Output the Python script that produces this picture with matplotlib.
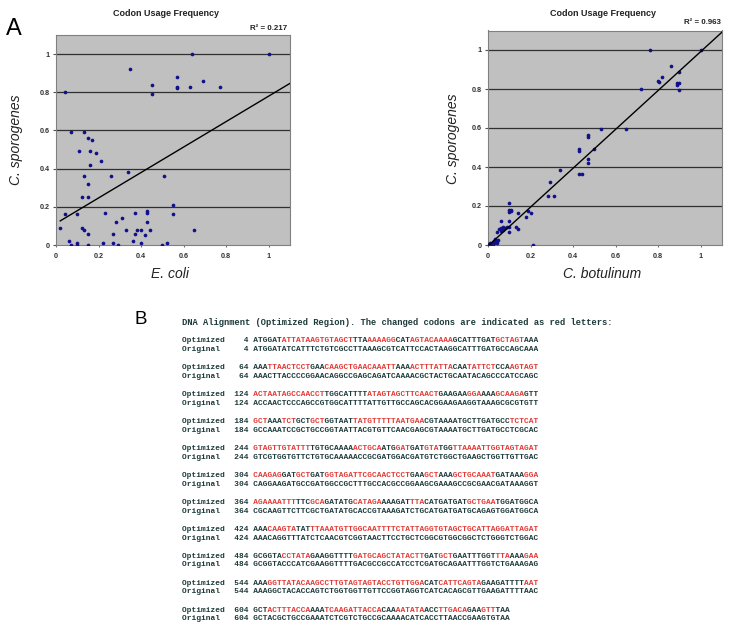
import numpy as np
import matplotlib
matplotlib.use("Agg")
import matplotlib.pyplot as plt

# %%
# Scatter data
ecoli_x = [1.0, 0.64, 0.35, 0.04, 0.45, 0.45, 0.57, 0.57, 0.57, 0.63, 0.69, 0.77,
           0.07, 0.13, 0.15, 0.17, 0.11, 0.16, 0.19, 0.16, 0.21, 0.13, 0.26, 0.34,
           0.51, 0.15, 0.12, 0.15, 0.55, 0.55, 0.04, 0.10, 0.23, 0.37, 0.43, 0.43,
           0.31, 0.28, 0.43, 0.02, 0.12, 0.13, 0.33, 0.38, 0.40, 0.44, 0.65, 0.15,
           0.27, 0.37, 0.42, 0.06, 0.36, 0.10, 0.22, 0.27, 0.40, 0.52, 0.07, 0.10,
           0.15, 0.29, 0.50]
ecoli_y = [1.0, 1.0, 0.92, 0.80, 0.84, 0.79, 0.88, 0.83, 0.82, 0.83, 0.86, 0.83,
           0.59, 0.59, 0.56, 0.55, 0.49, 0.49, 0.48, 0.42, 0.44, 0.36, 0.36, 0.38,
           0.36, 0.32, 0.25, 0.25, 0.21, 0.16, 0.16, 0.16, 0.17, 0.17, 0.18, 0.17,
           0.14, 0.12, 0.12, 0.09, 0.09, 0.08, 0.08, 0.08, 0.08, 0.08, 0.08, 0.06,
           0.06, 0.06, 0.05, 0.02, 0.02, 0.01, 0.01, 0.01, 0.01, 0.01, 0.0, 0.0,
           0.0, 0.0, 0.0]

botu_x = [0.76, 1.0, 0.86, 0.90, 0.82, 0.80, 0.805, 0.89, 0.90, 0.89, 0.90, 0.72,
          0.53, 0.65, 0.47, 0.47, 0.43, 0.43, 0.50, 0.47, 0.47, 0.34, 0.43, 0.44,
          0.29, 0.28, 0.31, 0.10, 0.10, 0.11, 0.10, 0.11, 0.14, 0.19, 0.20, 0.18,
          0.06, 0.10, 0.13, 0.14, 0.07, 0.10, 0.04, 0.05, 0.06, 0.08, 0.09, 0.06,
          0.07, 0.10, 0.04, 0.03, 0.02, 0.01, 0.01, 0.02, 0.03, 0.04, 0.035, 0.005,
          0.025, 0.045, 0.21]
botu_y = [1.0, 1.0, 0.92, 0.885, 0.862, 0.843, 0.835, 0.83, 0.83, 0.82, 0.793, 0.80,
          0.595, 0.595, 0.565, 0.555, 0.492, 0.482, 0.492, 0.44, 0.42, 0.383, 0.362, 0.362,
          0.325, 0.253, 0.253, 0.215, 0.18, 0.18, 0.17, 0.175, 0.165, 0.176, 0.166, 0.142,
          0.123, 0.123, 0.091, 0.083, 0.091, 0.067, 0.065, 0.08, 0.085, 0.085, 0.09, 0.07,
          0.075, 0.09, 0.02, 0.01, 0.01, 0.01, 0.0, 0.0, 0.02, 0.01, 0.03, 0.005,
          0.005, 0.025, 0.002]

# trend lines (slope, intercept, x start) and R^2 labels
trend_left = (0.667, 0.113, 0.02)
trend_right = (0.997, -0.005, 0.0)
r2_left = "R² = 0.217"
r2_right = "R² = 0.963"

ticks = [0, 0.2, 0.4, 0.6, 0.8, 1]
tick_labels = ["0", "0.2", "0.4", "0.6", "0.8", "1"]

# %%
# Alignment data
header = "DNA Alignment (Optimized Region). The changed codons are indicated as red letters:"
starts = [4, 64, 124, 184, 244, 304, 364, 424, 484, 544, 604]
opt_seqs = [
    "ATGGATATTATAAGTGTAGCTTTAAAAAGGCATAGTACAAAAGCATTTGATGCTAGTAAA",
    "AAATTAACTCCTGAACAAGCTGAACAAATTAAAACTTTATTACAATATTCTCCAAGTAGT",
    "ACTAATAGCCAACCTTGGCATTTTATAGTAGCTTCAACTGAAGAAGGAAAAGCAAGAGTT",
    "GCTAAATCTGCTGCTGGTAATTATGTTTTTAATGAACGTAAAATGCTTGATGCCTCTCAT",
    "GTAGTTGTATTTTGTGCAAAAACTGCAATGGATGATGTATGGTTAAAATTGGTAGTAGAT",
    "CAAGAGGATGCTGATGGTAGATTCGCAACTCCTGAAGCTAAAGCTGCAAATGATAAAGGA",
    "AGAAAATTTTTCGCAGATATGCATAGAAAAGATTTACATGATGATGCTGAATGGATGGCA",
    "AAACAAGTATATTTAAATGTTGGCAATTTTCTATTAGGTGTAGCTGCATTAGGATTAGAT",
    "GCGGTACCTATAGAAGGTTTTGATGCAGCTATACTTGATGCTGAATTTGGTTTAAAAGAA",
    "AAAGGTTATACAAGCCTTGTAGTAGTACCTGTTGGACATCATTCAGTAGAAGATTTTAAT",
    "GCTACTTTACCAAAATCAAGATTACCACAAAATATAACCTTGACAGAAGTTTAA",
]
orig_seqs = [
    "ATGGATATCATTTCTGTCGCCTTAAAGCGTCATTCCACTAAGGCATTTGATGCCAGCAAA",
    "AAACTTACCCCGGAACAGGCCGAGCAGATCAAAACGCTACTGCAATACAGCCCATCCAGC",
    "ACCAACTCCCAGCCGTGGCATTTTATTGTTGCCAGCACGGAAGAAGGTAAAGCGCGTGTT",
    "GCCAAATCCGCTGCCGGTAATTACGTGTTCAACGAGCGTAAAATGCTTGATGCCTCGCAC",
    "GTCGTGGTGTTCTGTGCAAAAACCGCGATGGACGATGTCTGGCTGAAGCTGGTTGTTGAC",
    "CAGGAAGATGCCGATGGCCGCTTTGCCACGCCGGAAGCGAAAGCCGCGAACGATAAAGGT",
    "CGCAAGTTCTTCGCTGATATGCACCGTAAAGATCTGCATGATGATGCAGAGTGGATGGCA",
    "AAACAGGTTTATCTCAACGTCGGTAACTTCCTGCTCGGCGTGGCGGCTCTGGGTCTGGAC",
    "GCGGTACCCATCGAAGGTTTTGACGCCGCCATCCTCGATGCAGAATTTGGTCTGAAAGAG",
    "AAAGGCTACACCAGTCTGGTGGTTGTTCCGGTAGGTCATCACAGCGTTGAAGATTTTAAC",
    "GCTACGCTGCCGAAATCTCGTCTGCCGCAAAACATCACCTTAACCGAAGTGTAA",
]

# %%
W, H = 729, 633
fig = plt.figure(figsize=(W / 100, H / 100), dpi=100)
plt.rcParams['font.family'] = ['Liberation Sans', 'DejaVu Sans']

def px(x, y):
    # pixel position (from top-left) -> figure fraction
    return x / W, 1 - y / H

def scatter_panel(rect, xs, ys, trend):
    ax = fig.add_axes(rect)
    ax.set_facecolor('#c0c0c0')
    ax.set_xlim(0, 1.1)
    ax.set_ylim(0, 1.1)
    for t in ticks[1:]:
        ax.axhline(t, color='#303030', lw=0.9, zorder=1)
    ax.scatter(xs, ys, s=7, marker='o', color='#10108a', lw=0, zorder=3)
    a, b, x0 = trend
    xl = np.array([x0, 1.1])
    ax.plot(xl, a * xl + b, color='black', lw=1.0, zorder=4)
    ax.set_xticks(ticks)
    ax.set_yticks(ticks)
    ax.set_xticklabels(tick_labels, fontsize=5.2, fontweight='bold', color='#333333')
    ax.set_yticklabels(tick_labels, fontsize=5.2, fontweight='bold', color='#333333')
    ax.tick_params(axis='x', length=1.5, pad=4.5, color='#707070')
    ax.tick_params(axis='y', length=2, pad=2.5, color='#505050')
    for s in ax.spines.values():
        s.set_color('#808080')
        s.set_linewidth(0.8)
    return ax

# Panel A - left
axl = scatter_panel([56 / W, 1 - 245 / H, 234 / W, 210 / H], ecoli_x, ecoli_y, trend_left)
fig.text(*px(166, 13), "Codon Usage Frequency", fontsize=6.5, fontweight='bold',
         ha='center', va='center', color='#222222')
fig.text(*px(287, 28), r2_left, fontsize=5.7, fontweight='bold', ha='right', va='center',
         color='#222222')
fig.text(*px(16, 140), "C. sporogenes", fontsize=10, style='italic', rotation=90,
         ha='center', va='center', color='#222222')
fig.text(*px(170, 274), "E. coli", fontsize=10, style='italic', ha='center', va='center',
         color='#222222')

# right
axr = scatter_panel([488 / W, 1 - 245 / H, 234 / W, 214.5 / H], botu_x, botu_y, trend_right)
fig.text(*px(603, 14), "Codon Usage Frequency", fontsize=6.5, fontweight='bold',
         ha='center', va='center', color='#222222')
fig.text(*px(721, 23), r2_right, fontsize=5.7, fontweight='bold', ha='right', va='center',
         color='#222222')
fig.text(*px(453, 139), "C. sporogenes", fontsize=10, style='italic', rotation=90,
         ha='center', va='center', color='#222222')
fig.text(*px(602, 274), "C. botulinum", fontsize=10, style='italic', ha='center', va='center',
         color='#222222')

fig.text(*px(14, 29), "A", fontsize=17, ha='center', va='center', color='black')
fig.text(*px(141, 320), "B", fontsize=13.5, ha='center', va='center', color='black')

# %%
# Panel B - alignment text
mono = ['Liberation Mono', 'DejaVu Sans Mono']
dark = '#1e3a3a'
red = '#e33a36'
x_txt = 181.7
fig.text(*px(x_txt, 322.7), header, family=mono, fontsize=6.3, fontweight='bold',
         ha='left', va='center', color=dark)

y_opt0, step, pair = 340.7, 26.93, 8.8
for i, (st, o, g) in enumerate(zip(starts, opt_seqs, orig_seqs)):
    y = y_opt0 + i * step
    blk, rd = "", ""
    for k in range(0, len(o), 3):
        c1, c2 = o[k:k + 3], g[k:k + 3]
        if c1 != c2:
            blk += " " * len(c1)
            rd += c1
        else:
            blk += c1
            rd += " " * len(c1)
    pre = f"{'Optimized':<10}{st:>4} "
    fig.text(*px(x_txt, y), pre + blk, family=mono, fontsize=5.7, fontweight='bold',
             ha='left', va='center', color=dark)
    fig.text(*px(x_txt, y), " " * len(pre) + rd, family=mono, fontsize=5.7,
             fontweight='bold', ha='left', va='center', color=red)
    fig.text(*px(x_txt, y + pair), f"{'Original':<10}{st:>4} " + g, family=mono,
             fontsize=5.7, fontweight='bold', ha='left', va='center', color=dark)

fig.savefig("out.png", dpi=100)
